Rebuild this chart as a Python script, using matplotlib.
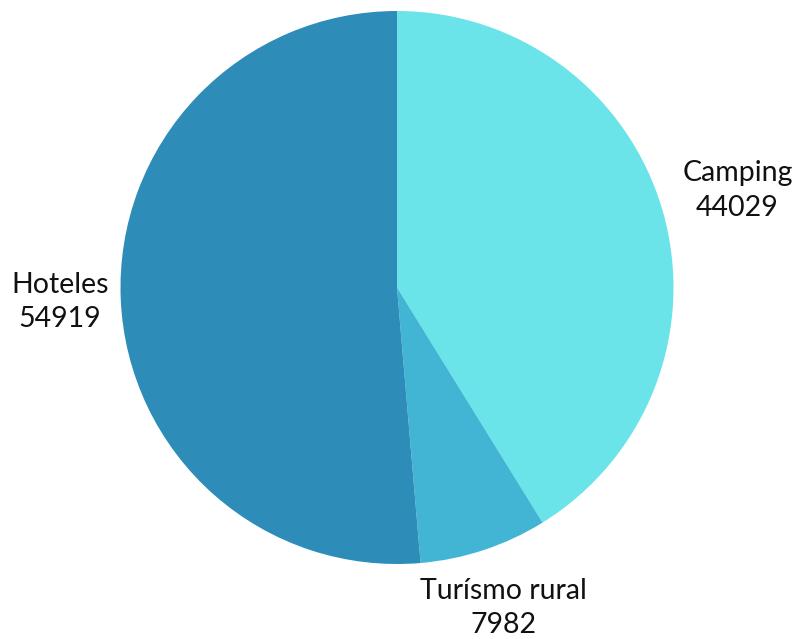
import numpy as np
import matplotlib.pyplot as plt

labels = ['Camping', 'Turísmo rural', 'Hoteles']
values = [44029, 7982, 54919]
colors = ['#6ae4e8', '#42b4d4', '#2e8cb8']
label_dist = [1.28, 1.22, 1.22]

plt.rcParams['font.family'] = ['Lato', 'DejaVu Sans']

fig = plt.figure(figsize=(7.97, 6.39), dpi=100)
ax = fig.add_axes([0, 0, 1, 1])

cx, cy, r = 397, 287.5, 276.5
# y axis points down (pixel style), so start at -90 and go counterclockwise
wedges, _ = ax.pie(values, colors=colors, startangle=-90, counterclock=True,
                   center=(cx, cy), radius=r, frame=True)
ax.set_xlim(0, 797)
ax.set_ylim(639, 0)
ax.set_aspect('equal')
ax.axis('off')

for w, lab, v, d in zip(wedges, labels, values, label_dist):
    ang = np.deg2rad((w.theta1 + w.theta2) / 2)
    x = cx + d * r * np.cos(ang)
    y = cy + d * r * np.sin(ang)
    ax.text(x, y, f'{lab}\n{v}', ha='center', va='center', fontsize=20.5,
            color='#111111', linespacing=1.4)

fig.savefig('out.png', dpi=100)
